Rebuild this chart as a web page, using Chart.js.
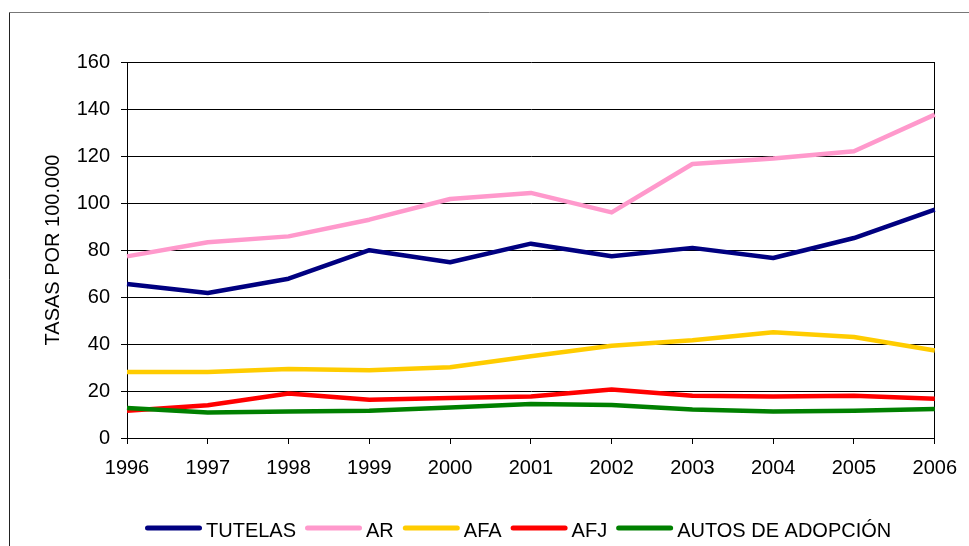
<!DOCTYPE html>
<html>
<head>
<meta charset="utf-8">
<script src="https://cdn.jsdelivr.net/npm/chart.js@4"></script>
<style>
  html, body { margin: 0; padding: 0; background: #fff; }
  #wrap { width: 969px; height: 546px; }
</style>
</head>
<body>
<div id="wrap"><canvas id="c" width="969" height="546"></canvas></div>
<script>
const years = ['1996', '1997', '1998', '1999', '2000', '2001', '2002', '2003', '2004', '2005', '2006'];

const tutelas = [65.5, 61.7, 67.8, 79.9, 74.8, 82.7, 77.3, 80.9, 76.6, 85.1, 97.2];
const ar      = [77.3, 83.3, 85.8, 92.9, 101.7, 104.3, 96.0, 116.6, 118.9, 122.0, 137.6];
const afa     = [28.1, 28.1, 29.4, 28.8, 30.1, 34.8, 39.3, 41.6, 45.0, 43.0, 37.2];
const afj     = [11.6, 13.9, 18.9, 16.3, 17.0, 17.7, 20.6, 18.0, 17.7, 18.0, 16.7];
const autos   = [12.8, 10.9, 11.3, 11.6, 13.0, 14.5, 14.0, 12.1, 11.3, 11.6, 12.3];

const seriesNames = ['TUTELAS', 'AR', 'AFA', 'AFJ', 'AUTOS DE ADOPCIÓN'];
const seriesColors = ['#000080', '#FF99CC', '#FFCC00', '#FF0000', '#008000'];

const FONT = '"Liberation Sans", Arial, sans-serif';

// frame lines and the Excel-style legend under the plot
const frameAndLegend = {
  id: 'frameAndLegend',
  afterDraw(chart) {
    const ctx = chart.ctx;
    ctx.save();
    ctx.lineWidth = 1;
    ctx.strokeStyle = '#777';
    ctx.beginPath();
    ctx.moveTo(9.5, 12.5);
    ctx.lineTo(969, 12.5);
    ctx.stroke();
    ctx.strokeStyle = '#222';
    ctx.beginPath();
    ctx.moveTo(9.5, 12.5);
    ctx.lineTo(9.5, 546);
    ctx.stroke();

    let x = 145;
    const y = 528;
    ctx.font = '20px ' + FONT;
    ctx.textBaseline = 'alphabetic';
    chart.data.datasets.forEach(ds => {
      ctx.strokeStyle = ds.borderColor;
      ctx.lineWidth = 5;
      ctx.lineCap = 'round';
      ctx.beginPath();
      ctx.moveTo(x + 2.5, y);
      ctx.lineTo(x + 54.5, y);
      ctx.stroke();
      x += 61;
      ctx.fillStyle = '#000';
      ctx.fillText(ds.label, x, 537);
      x += ctx.measureText(ds.label).width + 9;
    });
    ctx.restore();
  }
};

const allSeries = [tutelas, ar, afa, afj, autos];

new Chart(document.getElementById('c'), {
  type: 'line',
  data: {
    labels: years,
    datasets: allSeries.map((vals, i) => ({
      label: seriesNames[i],
      data: vals,
      borderColor: seriesColors[i],
      backgroundColor: seriesColors[i],
      borderWidth: 4.5,
      pointRadius: 0,
      tension: 0,
      borderJoinStyle: 'round',
      order: allSeries.length - i
    }))
  },
  options: {
    responsive: false,
    animation: false,
    layout: { padding: { left: 0, top: 62, right: 34, bottom: 0 } },
    plugins: {
      legend: { display: false },
      tooltip: { enabled: false }
    },
    scales: {
      x: {
        afterFit: s => { s.height = 108; },
        grid: {
          color: c => (c.index === years.length - 1 ? '#000' : 'rgba(0,0,0,0)'),
          tickColor: '#000',
          tickLength: 6,
          lineWidth: 1
        },
        border: { color: '#000', width: 1 },
        ticks: {
          color: '#000',
          font: { family: FONT, size: 20 },
          padding: 12,
          maxRotation: 0,
          autoSkip: false
        }
      },
      y: {
        min: 0,
        max: 160,
        afterFit: s => { s.width = 127; },
        grid: { color: '#000', tickColor: '#000', tickLength: 6, lineWidth: 1 },
        border: { color: '#000', width: 1 },
        ticks: {
          stepSize: 20,
          color: '#000',
          font: { family: FONT, size: 20 },
          padding: 11
        },
        title: {
          display: true,
          text: 'TASAS POR 100.000',
          color: '#000',
          font: { family: FONT, size: 20 },
          padding: { top: 41, bottom: 0 }
        }
      }
    }
  },
  plugins: [frameAndLegend]
});
</script>
</body>
</html>
